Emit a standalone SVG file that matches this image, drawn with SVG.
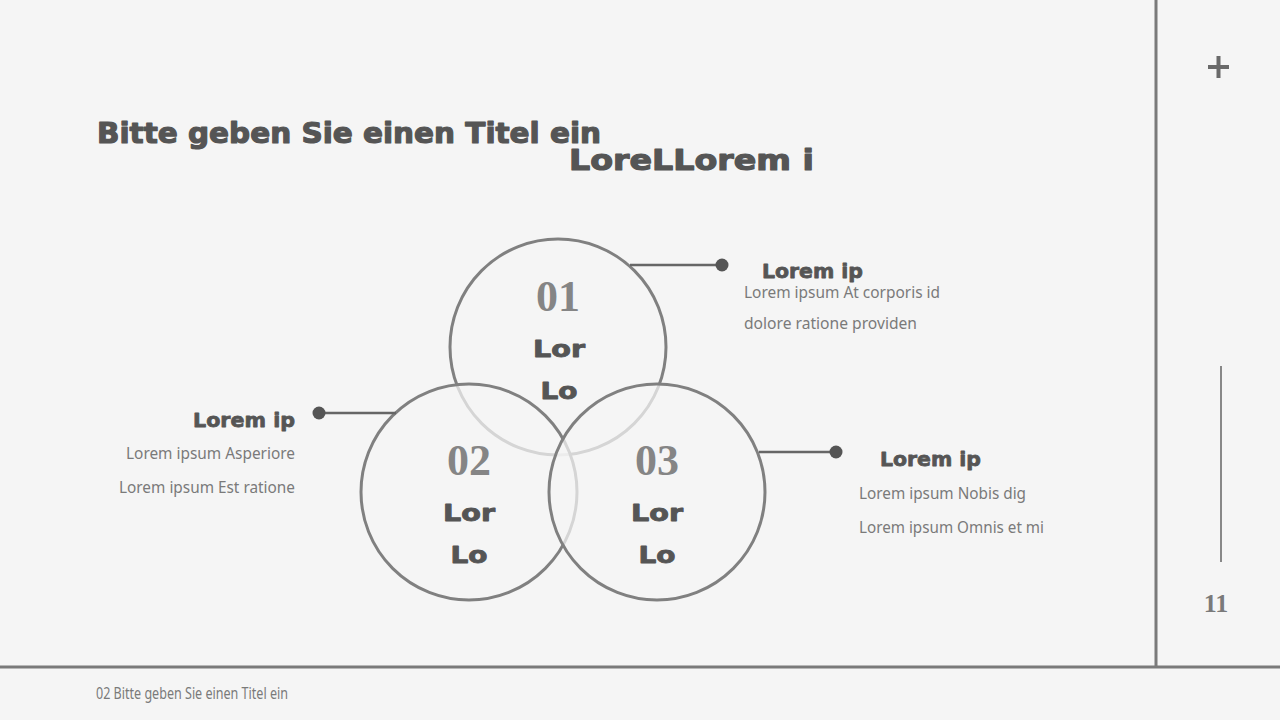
<svg xmlns="http://www.w3.org/2000/svg" width="1280" height="720" viewBox="0 0 1280 720">
<defs>
<style>
.title{font-family:"DejaVu Sans",sans-serif;font-weight:bold;fill:#555;stroke:#555;stroke-width:1.2;stroke-linejoin:round;}
.num{font-family:"Liberation Serif",serif;font-weight:bold;fill:#858585;font-size:44px;text-anchor:middle;}
.lbl{font-family:"DejaVu Sans",sans-serif;font-weight:bold;fill:#555;font-size:23px;text-anchor:middle;stroke:#555;stroke-width:0.9;stroke-linejoin:round;}
.head{font-family:"DejaVu Sans",sans-serif;font-weight:bold;fill:#555;font-size:20px;stroke:#555;stroke-width:0.8;stroke-linejoin:round;}
.body{font-family:"Noto Sans",sans-serif;fill:#7a7a7a;font-size:15.5px;}
.circ{fill:#f5f5f5;fill-opacity:0.72;stroke:#808080;stroke-width:3;}
.conn{stroke:#666;stroke-width:2.5;fill:none;}
.dot{fill:#555;}
</style>
</defs>
<rect width="1280" height="720" fill="#f5f5f5"/>
<g id="frame">
<line x1="1156" y1="0" x2="1156" y2="668" stroke="#7a7a7a" stroke-width="3"/>
<line x1="0" y1="667" x2="1280" y2="667" stroke="#7a7a7a" stroke-width="3"/>
<path d="M1208 67 H1229 M1218.5 56 V78" stroke="#6a6a6a" stroke-width="4"/>
<line x1="1221" y1="366" x2="1221" y2="562" stroke="#888" stroke-width="2"/>
<text x="1216" y="612" text-anchor="middle" font-family="Liberation Serif, serif" font-weight="bold" font-size="26" fill="#7a7a7a">11</text>
</g>
<g id="title">
<text class="title" x="97" y="143" font-size="29" textLength="504" lengthAdjust="spacingAndGlyphs">Bitte geben Sie einen Titel ein</text>
<text class="title" x="569" y="170" font-size="29" textLength="245" lengthAdjust="spacingAndGlyphs">LoreLLorem i</text>
</g>
<g id="circle1">
<circle class="circ" cx="558" cy="347" r="108"/>
<text class="num" x="558" y="311">01</text>
<text class="lbl" x="559" y="357" textLength="52" lengthAdjust="spacingAndGlyphs">Lor</text>
<text class="lbl" x="559" y="399" textLength="37" lengthAdjust="spacingAndGlyphs">Lo</text>
</g>
<g id="circle2">
<circle class="circ" cx="469" cy="492" r="108"/>
<text class="num" x="469" y="475">02</text>
<text class="lbl" x="469" y="521" textLength="52" lengthAdjust="spacingAndGlyphs">Lor</text>
<text class="lbl" x="469" y="563" textLength="37" lengthAdjust="spacingAndGlyphs">Lo</text>
</g>
<g id="circle3">
<circle class="circ" cx="657" cy="492" r="108"/>
<text class="num" x="657" y="475">03</text>
<text class="lbl" x="657" y="521" textLength="52" lengthAdjust="spacingAndGlyphs">Lor</text>
<text class="lbl" x="657" y="563" textLength="37" lengthAdjust="spacingAndGlyphs">Lo</text>
</g>
<g id="connectors">
<line class="conn" x1="630" y1="265" x2="722" y2="265"/>
<circle class="dot" cx="722" cy="265" r="6.5"/>
<line class="conn" x1="319" y1="413" x2="396" y2="413"/>
<circle class="dot" cx="319" cy="413" r="6.5"/>
<line class="conn" x1="759" y1="452" x2="836" y2="452"/>
<circle class="dot" cx="836" cy="452" r="6.5"/>
</g>
<g id="text1">
<text class="head" x="762" y="278" textLength="101" lengthAdjust="spacingAndGlyphs">Lorem ip</text>
<text class="body" x="744" y="298" textLength="196" lengthAdjust="spacingAndGlyphs">Lorem ipsum At corporis id</text>
<text class="body" x="744" y="329" textLength="173" lengthAdjust="spacingAndGlyphs">dolore ratione providen</text>
</g>
<g id="text2">
<text class="head" x="193" y="427" textLength="102" lengthAdjust="spacingAndGlyphs">Lorem ip</text>
<text class="body" x="295" y="459" text-anchor="end" textLength="169" lengthAdjust="spacingAndGlyphs">Lorem ipsum Asperiore</text>
<text class="body" x="295" y="493" text-anchor="end" textLength="176" lengthAdjust="spacingAndGlyphs">Lorem ipsum Est ratione</text>
</g>
<g id="text3">
<text class="head" x="880" y="466" textLength="101" lengthAdjust="spacingAndGlyphs">Lorem ip</text>
<text class="body" x="859" y="499" textLength="167" lengthAdjust="spacingAndGlyphs">Lorem ipsum Nobis dig</text>
<text class="body" x="859" y="533" textLength="185" lengthAdjust="spacingAndGlyphs">Lorem ipsum Omnis et mi</text>
</g>
<g id="footer">
<text class="body" x="96" y="699" font-size="12" textLength="192" lengthAdjust="spacingAndGlyphs">02 Bitte geben Sie einen Titel ein</text>
</g>
</svg>
